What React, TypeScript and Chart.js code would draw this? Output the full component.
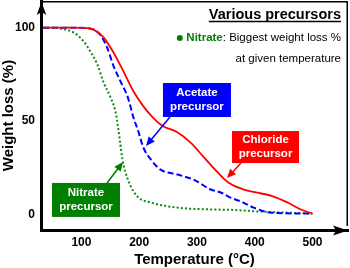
import React, { useEffect, useRef } from 'react';
import { Chart, registerables } from 'chart.js';

Chart.register(...registerables);

// ---- data ----
const temperatureTicks = [100, 200, 300, 400, 500];
const weightTicks = [0, 50, 100];

const chlorideT = [34, 80, 110, 121, 138, 155, 173, 190, 207, 225, 240, 266, 289, 311, 336, 355, 380, 400, 433, 457, 480, 500];
const chlorideW = [100, 100, 99.8, 99, 95, 87, 76.5, 66, 58, 51.5, 47.5, 44, 38.5, 31, 22.5, 17, 13.5, 12, 9.6, 6.4, 2.7, 0.5];

const acetateT = [34, 90, 116, 133, 145, 155, 168, 180, 190, 199, 207, 220, 237, 266, 294, 324, 341, 358, 376, 398, 428, 500];
const acetateW = [100, 100, 99.5, 96, 89, 80, 71, 63, 52, 44, 36, 29.5, 24, 21.4, 18.7, 13.4, 11.8, 9, 7, 3.7, 1, 0.5];

const nitrateT = [34, 55, 64, 86, 103, 116, 128, 138, 150, 159, 164, 171, 180, 197, 220, 266, 324, 358, 407, 500];
const nitrateW = [100, 100, 99.5, 97.5, 93, 87, 80, 71, 63, 55, 45.5, 29.5, 19, 9.6, 6.4, 3.7, 2.7, 2.5, 1.6, 0.5];

const seriesNames = ['Chloride precursor', 'Acetate precursor', 'Nitrate precursor'];

const FONT = '"Liberation Sans", Arial, Helvetica, sans-serif';
const RED = '#ff0000';
const BLUE = '#0000ff';
const GREEN = '#007f00';
const GREEN_LINE = '#0b8a0b';

// annotation anchors in data units (°C, %)
const callouts = [
  { lines: ['Acetate', 'precursor'], color: BLUE, cx: 300, cy: 61.3, w: 68, h: 34, from: [253.3, 52.2], to: [211.8, 36.7] },
  { lines: ['Chloride', 'precursor'], color: RED, cx: 418.7, cy: 36.1, w: 67, h: 32, from: [376.3, 27.6], to: [352, 19.5] },
  { lines: ['Nitrate', 'precursor'], color: GREEN, cx: 107.9, cy: 7.8, w: 68, h: 34, from: [144.3, 16.9], to: [172, 28.1] },
];

function arrowHead(ctx: CanvasRenderingContext2D, fx: number, fy: number, tx: number, ty: number, len: number, half: number, notch: number) {
  const ang = Math.atan2(ty - fy, tx - fx);
  const cos = Math.cos(ang), sin = Math.sin(ang);
  const bx = tx - len * cos, by = ty - len * sin;
  const nx = tx - (len - notch) * cos, ny = ty - (len - notch) * sin;
  ctx.beginPath();
  ctx.moveTo(tx, ty);
  ctx.lineTo(bx - half * sin, by + half * cos);
  ctx.lineTo(nx, ny);
  ctx.lineTo(bx + half * sin, by - half * cos);
  ctx.closePath();
  ctx.fill();
}

const decorPlugin = {
  id: 'decor',
  afterDraw(chart: any) {
    const { ctx, chartArea: a, scales } = chart;
    const xs = scales.x, ys = scales.y;
    ctx.save();
    // thin frame top/right
    ctx.strokeStyle = '#000';
    ctx.lineWidth = 1.5;
    ctx.beginPath();
    ctx.moveTo(a.left, a.top + 0.75);
    ctx.lineTo(a.right - 0.75, a.top + 0.75);
    ctx.lineTo(a.right - 0.75, a.bottom - 4);
    ctx.stroke();
    // axis arrowheads
    ctx.fillStyle = '#000';
    arrowHead(ctx, a.left + 0.5, a.bottom, a.left + 0.5, a.top + 1, 13, 4.8, 3);
    arrowHead(ctx, a.left, a.bottom + 0.5, a.right, a.bottom + 0.5, 15, 5, 3);

    // callouts
    for (const c of callouts) {
      const px = xs.getPixelForValue(c.cx), py = ys.getPixelForValue(c.cy);
      ctx.fillStyle = c.color;
      ctx.fillRect(px - c.w / 2, py - c.h / 2, c.w, c.h);
      ctx.fillStyle = '#fff';
      ctx.font = `bold 11.5px ${FONT}`;
      ctx.textAlign = 'center';
      ctx.textBaseline = 'middle';
      ctx.fillText(c.lines[0], px, py - 7);
      ctx.fillText(c.lines[1], px, py + 7);
      const fx = xs.getPixelForValue(c.from[0]), fy = ys.getPixelForValue(c.from[1]);
      const tx = xs.getPixelForValue(c.to[0]), ty = ys.getPixelForValue(c.to[1]);
      ctx.strokeStyle = c.color;
      ctx.lineWidth = 1.5;
      const ang = Math.atan2(ty - fy, tx - fx);
      ctx.beginPath();
      ctx.moveTo(fx, fy);
      ctx.lineTo(tx - 6 * Math.cos(ang), ty - 6 * Math.sin(ang));
      ctx.stroke();
      ctx.fillStyle = c.color;
      arrowHead(ctx, fx, fy, tx, ty, 9, 4, 0);
    }

    // legend text top-right
    const rx = a.right - 7;
    ctx.textBaseline = 'middle';
    ctx.textAlign = 'right';
    ctx.fillStyle = '#000';
    ctx.font = `bold 14.5px ${FONT}`;
    const title = 'Various precursors';
    ctx.fillText(title, rx, 15);
    const tw = ctx.measureText(title).width;
    ctx.lineWidth = 1.5;
    ctx.strokeStyle = '#000';
    ctx.beginPath();
    ctx.moveTo(rx - tw, 21.5);
    ctx.lineTo(rx, 21.5);
    ctx.stroke();

    ctx.font = `11.5px ${FONT}`;
    const rest = ': Biggest weight loss %';
    ctx.fillText(rest, rx, 38);
    const rw = ctx.measureText(rest).width;
    ctx.font = `bold 11.5px ${FONT}`;
    ctx.fillStyle = GREEN;
    ctx.fillText('Nitrate', rx - rw, 38);
    const nw = ctx.measureText('Nitrate').width;
    ctx.beginPath();
    ctx.arc(rx - rw - nw - 6.5, 38, 3, 0, Math.PI * 2);
    ctx.fill();

    ctx.fillStyle = '#000';
    ctx.font = `11.5px ${FONT}`;
    ctx.fillText('at given temperature', rx, 59);
    ctx.restore();
  },
};

export default function App() {
  const ref = useRef<HTMLCanvasElement | null>(null);
  useEffect(() => {
    if (!ref.current) return;
    const toPts = (t: number[], w: number[]) => t.map((v, i) => ({ x: v, y: w[i] }));
    const chart = new Chart(ref.current, {
      type: 'line',
      data: {
        datasets: [
          {
            label: seriesNames[0],
            data: toPts(chlorideT, chlorideW),
            borderColor: RED,
            borderWidth: 1.8,
            pointRadius: 0,
            cubicInterpolationMode: 'monotone',
            fill: false,
          },
          {
            label: seriesNames[1],
            data: toPts(acetateT, acetateW),
            borderColor: BLUE,
            borderWidth: 2,
            borderDash: [6, 3],
            pointRadius: 0,
            cubicInterpolationMode: 'monotone',
            fill: false,
          },
          {
            label: seriesNames[2],
            data: toPts(nitrateT, nitrateW),
            borderColor: GREEN_LINE,
            borderWidth: 2,
            borderDash: [2, 2.2],
            pointRadius: 0,
            cubicInterpolationMode: 'monotone',
            fill: false,
          },
        ],
      },
      options: {
        animation: false,
        responsive: false,
        maintainAspectRatio: false,
        layout: { padding: { top: 1, right: 2, left: 0, bottom: 0 } },
        plugins: { legend: { display: false }, tooltip: { enabled: false } },
        scales: {
          x: {
            type: 'linear',
            min: 30,
            max: 561.5,
            grid: { display: false, drawTicks: false },
            border: { display: true, color: '#000', width: 3 },
            afterFit: (s: any) => { s.height = 38; s.paddingLeft = 0; s.paddingRight = 0; },
            afterBuildTicks: (s: any) => { s.ticks = temperatureTicks.map((v) => ({ value: v })); },
            ticks: { color: '#000', padding: 5, maxRotation: 0, font: { family: FONT, size: 12, weight: 'bold' } },
            title: {
              display: true,
              text: 'Temperature (°C)',
              color: '#000',
              padding: { top: 0, bottom: 0.5 },
              font: { family: FONT, size: 15, weight: 'bold', lineHeight: 1 },
            },
          },
          y: {
            type: 'linear',
            min: -8.3,
            max: 114.3,
            grid: { display: false, drawTicks: false },
            border: { display: true, color: '#000', width: 3 },
            afterFit: (s: any) => { s.width = 41; s.paddingTop = 0; s.paddingBottom = 0; },
            afterBuildTicks: (s: any) => { s.ticks = weightTicks.map((v) => ({ value: v })); },
            ticks: { color: '#000', padding: 6, font: { family: FONT, size: 12, weight: 'bold' } },
            title: {
              display: true,
              text: 'Weight loss (%)',
              color: '#000',
              padding: { top: 1.5, bottom: 0 },
              font: { family: FONT, size: 15, weight: 'bold', lineHeight: 1 },
            },
          },
        },
      },
      plugins: [decorPlugin],
    } as any);
    return () => chart.destroy();
  }, []);
  return (
    <div style={{ position: 'fixed', left: 0, top: 0, width: 350, height: 268, background: '#fff' }}>
      <canvas ref={ref} width={350} height={268} style={{ width: 350, height: 268, display: 'block' }} />
    </div>
  );
}
